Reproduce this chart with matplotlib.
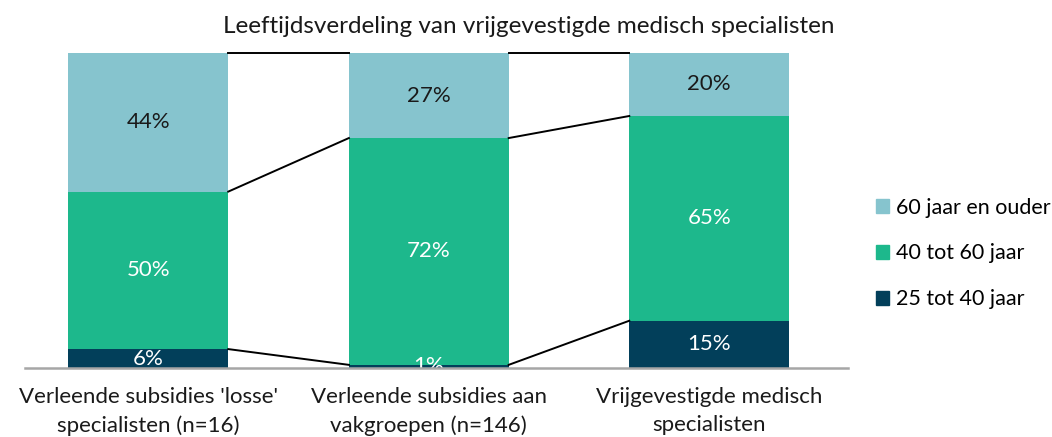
import numpy as np
import matplotlib
matplotlib.use('Agg')
import matplotlib.pyplot as plt
from matplotlib.patches import Patch

plt.rcParams['font.family'] = ['Lato', 'DejaVu Sans']

categories = ["Verleende subsidies 'losse'\nspecialisten (n=16)",
              "Verleende subsidies aan\nvakgroepen (n=146)",
              "Vrijgevestigde medisch\nspecialisten"]
series_names = ['25 tot 40 jaar', '40 tot 60 jaar', '60 jaar en ouder']
age_25_40 = [6, 1, 15]
age_40_60 = [50, 72, 65]
age_60_plus = [44, 27, 20]

colors = ['#023F5A', '#1DB88C', '#86C4CE']
text_colors = ['white', 'white', '#1a1a1a']

fig = plt.figure(figsize=(10.52, 4.37), dpi=100)
ax = fig.add_axes([25/1052, 69/437, 823/1052, 315/437])

x = np.arange(len(categories))
w = 0.57
bottom = np.zeros(len(categories))
tops = []
for vals, c, tc in zip([age_25_40, age_40_60, age_60_plus], colors, text_colors):
    vals = np.array(vals, dtype=float)
    ax.bar(x, vals, w, bottom=bottom, color=c, zorder=2)
    for xi, b, v in zip(x, bottom, vals):
        t = ax.text(xi, b + v/2, '%d%%' % v, ha='center', va='center',
                    color=tc, fontsize=16, zorder=4)
        t.set_clip_on(True)
    bottom = bottom + vals
    tops.append(bottom.copy())

# connecting lines between bars
for top in tops:
    for i in range(len(x) - 1):
        ax.plot([x[i] + w/2, x[i+1] - w/2], [top[i], top[i+1]],
                color='black', lw=1.4, zorder=3, clip_on=False)

ax.set_xlim(-0.44, 2.495)
ax.set_ylim(0, 100)
ax.set_xticks(x)
ax.set_xticklabels(categories, fontsize=16, color='#1a1a1a', linespacing=1.45)
ax.tick_params(axis='x', length=0, pad=14)
ax.set_yticks([])
for s in ['top', 'left', 'right']:
    ax.spines[s].set_visible(False)
ax.spines['bottom'].set_color('#a6a6a6')
ax.spines['bottom'].set_linewidth(1.8)
ax.spines['bottom'].set_zorder(5)

fig.text(0.503, 0.94, 'Leeftijdsverdeling van vrijgevestigde medisch specialisten',
         ha='center', va='center', fontsize=17.5, color='#1a1a1a')

handles = [Patch(color=colors[i], label=series_names[i]) for i in [2, 1, 0]]
fig.legend(handles=handles, loc='center left', bbox_to_anchor=(0.8325, 0.42),
           frameon=False, fontsize=15.5, handlelength=0.6, handleheight=0.6,
           handletextpad=0.35, labelspacing=1.2, borderaxespad=0, borderpad=0)

fig.savefig('out.png', dpi=100)
